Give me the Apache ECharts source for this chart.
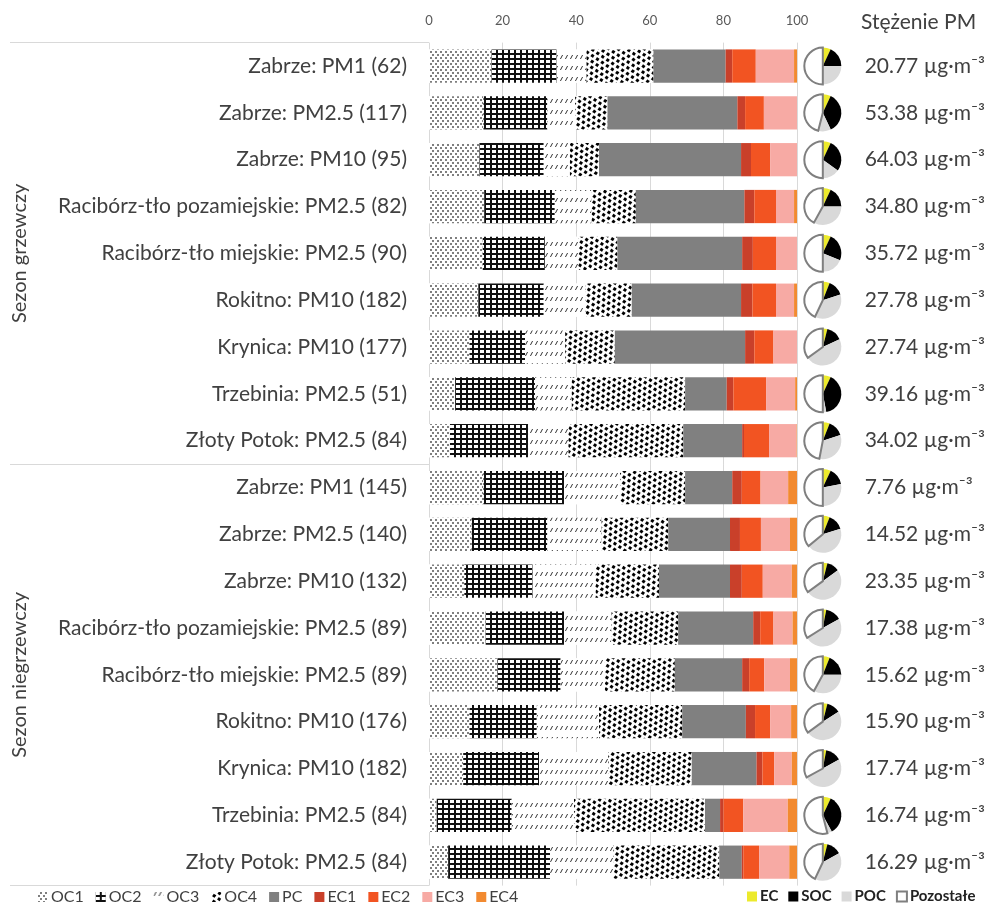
<!DOCTYPE html>
<html>
<head>
<meta charset="utf-8">
<script src="https://cdn.jsdelivr.net/npm/echarts@6/dist/echarts.min.js"></script>
<style>html,body{margin:0;padding:0;background:#fff}#c{width:988px;height:909px}</style>
</head>
<body>
<div id="c"></div>
<script>
const categories = ['Zabrze: PM1 (62)', 'Zabrze: PM2.5 (117)', 'Zabrze: PM10 (95)', 'Racibórz-tło pozamiejskie: PM2.5 (82)', 'Racibórz-tło miejskie: PM2.5 (90)', 'Rokitno: PM10 (182)', 'Krynica: PM10 (177)', 'Trzebinia: PM2.5 (51)', 'Złoty Potok: PM2.5 (84)', 'Zabrze: PM1 (145)', 'Zabrze: PM2.5 (140)', 'Zabrze: PM10 (132)', 'Racibórz-tło pozamiejskie: PM2.5 (89)', 'Racibórz-tło miejskie: PM2.5 (89)', 'Rokitno: PM10 (176)', 'Krynica: PM10 (182)', 'Trzebinia: PM2.5 (84)', 'Złoty Potok: PM2.5 (84)'];
const seasons = ['Sezon grzewczy', 'Sezon niegrzewczy'];
const xTicks = [0, 20, 40, 60, 80, 100];

const OC1 = [17.0,14.8,13.7,15.0,14.6,13.4,11.0,7.1,5.7,14.8,11.6,9.6,15.4,18.6,11.0,9.3,2.1,5.2];
const OC2 = [17.7,17.4,17.5,19.2,16.9,17.8,15.1,21.7,21.3,21.9,20.6,18.6,21.3,17.2,18.3,20.6,20.4,27.7];
const OC3 = [8.1,7.5,7.1,10.0,9.1,11.4,10.9,10.0,10.9,15.2,14.7,17.1,12.9,12.0,16.9,18.8,16.9,17.2];
const OC4 = [18.2,8.8,7.9,12.0,10.6,12.5,13.5,30.8,31.2,17.7,18.1,17.2,18.1,19.0,22.6,22.7,35.6,28.8];
const PC  = [19.6,35.3,38.6,29.5,33.9,29.7,35.4,11.3,16.0,12.8,16.8,19.3,20.4,18.3,17.3,17.6,4.1,6.1];
const EC1 = [1.8,2.1,2.7,2.7,2.9,3.1,2.5,1.8,0.5,2.6,2.7,3.2,1.9,1.9,2.5,1.6,0.9,0.4];
const EC2 = [6.4,5.1,5.2,5.9,6.3,6.4,5.2,8.9,6.8,5.1,5.7,5.7,3.6,4.1,4.1,3.2,5.4,4.3];
const EC3 = [10.4,9.0,7.3,4.9,5.7,4.9,6.4,7.9,7.5,7.5,7.9,7.9,5.2,7.0,5.7,4.8,12.1,8.2];
const EC4 = [0.8,0,0,0.8,0,0.8,0,0.5,0.1,2.4,1.9,1.4,1.2,1.9,1.6,1.4,2.5,2.1];

const pieEC   = [7,7,7,7,7,6,4,7,6,7,6,4,3,6,4,3,7,4];
const pieSOC  = [18,36,28,18,24,14,14,40,14,15,14,11,14,19,12,14,35,13];
const piePOC  = [25,11,15,33,19,37,47,3,33,28,44,50,49,33,49,50,4,40];
const pieRest = [50,46,50,42,50,43,35,50,47,50,36,35,34,42,35,33,54,43];

const concentrations = [20.77,53.38,64.03,34.80,35.72,27.78,27.74,39.16,34.02,7.76,14.52,23.35,17.38,15.62,15.90,17.74,16.74,16.29];

const FONT = 'Lato';
const TXT = '#404040';

const decals = {
  OC1: {symbol:'circle', symbolSize:1, color:'#555', backgroundColor:'#fff', dashArrayX:[[1.4,2.6],[0,2,1.4,0.6]], dashArrayY:[1.4,0.8]},
  OC2: {symbol:'rect', symbolSize:1, color:'#fff', backgroundColor:'#111', dashArrayX:[3.4,1.3], dashArrayY:[2.6,1.3]},
  OC3: {symbol:'path://M0,10 L3,10 L10,0 L7,0 Z', symbolSize:1, symbolKeepAspect:false, color:'#222', backgroundColor:'#fff', dashArrayX:[3,2], dashArrayY:[4,6.5]},
  OC4: {symbol:'rect', symbolSize:1, color:'#000', backgroundColor:'#fff', rotation:0.6, dashArrayX:[[2.6,2.2],[0,2.4,2.6,0]], dashArrayY:[2.2,1.2]}
};

function barSeries(name, data, color, decal) {
  const s = {
    name, type:'bar', stack:'all', xAxisIndex:0, yAxisIndex:0,
    data, barCategoryGap:'29%',
    itemStyle:{color}
  };
  if (decal) s.itemStyle.decal = decal;
  return s;
}

const pieParts = [pieEC, pieSOC, piePOC, pieRest];
function pieSeries(name, k, color) {
  return {
    name, type:'custom', coordinateSystem:'cartesian2d', xAxisIndex:1, yAxisIndex:2,
    itemStyle:{color, borderColor: k === 3 ? '#7f7f7f' : color, borderWidth: k === 3 ? 1 : 0},
    data: categories.map((c, i) => [0.5, i]),
    renderItem(params, api) {
      const i = params.dataIndex;
      const vals = pieParts.map(a => a[i]);
      const total = vals.reduce((a, b) => a + b, 0);
      let before = 0;
      for (let j = 0; j < k; j++) before += vals[j];
      const c = api.coord([0.5, i]);
      const r = api.size([0, 1])[1] * 0.395;
      const s = -Math.PI / 2 + before / total * Math.PI * 2;
      const e = s + vals[k] / total * Math.PI * 2;
      return {
        type:'sector',
        shape:{cx:c[0], cy:c[1], r:r, r0:0, startAngle:s, endAngle:e, clockwise:true},
        style:{fill:color, stroke: k === 3 ? '#7f7f7f' : null, lineWidth: k === 3 ? 2 : 0}
      };
    }
  };
}

const chart = echarts.init(document.getElementById('c'), null, {renderer:'canvas'});
const option = {
  animation:false,
  textStyle:{fontFamily:FONT},
  title:{text:'Stężenie PM', left:856, top:7, textStyle:{fontFamily:FONT, fontSize:21, fontWeight:'normal', color:TXT}},
  grid:[
    {left:429, right:191, top:42.6, height:843},
    {left:803, width:40, top:42.6, height:843}
  ],
  xAxis:[
    {type:'value', gridIndex:0, position:'top', min:xTicks[0], max:xTicks[xTicks.length-1], interval:20,
     axisLine:{show:false}, axisTick:{show:false},
     axisLabel:{color:'#595959', fontSize:13, margin:15, fontFamily:FONT},
     splitLine:{lineStyle:{color:'#d9d9d9', width:1}}},
    {type:'value', gridIndex:1, min:0, max:1, show:false}
  ],
  yAxis:[
    {type:'category', gridIndex:0, data:categories, inverse:true,
     axisLine:{show:false}, axisTick:{show:false},
     axisLabel:{color:TXT, fontSize:21, margin:22, fontFamily:FONT}},
    {type:'category', gridIndex:0, data:seasons, inverse:true, position:'left',
     axisLine:{show:false},
     axisTick:{show:true, length:419, lineStyle:{color:'#d9d9d9', width:1}},
     axisLabel:{color:TXT, fontSize:20, rotate:90, margin:399, fontFamily:FONT}},
    {type:'category', gridIndex:1, data:concentrations.map(v => v.toFixed(2) + ' µg·m⁻³'), inverse:true, position:'right',
     axisLine:{show:false}, axisTick:{show:false},
     axisLabel:{color:TXT, fontSize:21, margin:22, fontFamily:FONT}}
  ],
  legend:[
    {data:['OC1','OC2','OC3','OC4','PC','EC1','EC2','EC3','EC4'], left:38, top:889, padding:0,
     itemWidth:10, itemHeight:10, itemGap:12, icon:'rect',
     textStyle:{color:TXT, fontSize:16, fontFamily:FONT, padding:[0,0,0,-2]}},
    {data:['EC','SOC','POC','Pozostałe'], left:747, top:889, padding:0, width:241,
     itemWidth:10, itemHeight:10, itemGap:10, icon:'rect',
     textStyle:{color:'#222', fontSize:15, fontWeight:'bold', fontFamily:FONT, padding:[0,0,0,-2]}}
  ],
  series:[
    barSeries('OC1', OC1, '#fff', decals.OC1),
    barSeries('OC2', OC2, '#fff', decals.OC2),
    barSeries('OC3', OC3, '#fff', decals.OC3),
    barSeries('OC4', OC4, '#fff', decals.OC4),
    barSeries('PC', PC, '#808080'),
    barSeries('EC1', EC1, '#c9402a'),
    barSeries('EC2', EC2, '#f25422'),
    barSeries('EC3', EC3, '#f7aaa4'),
    barSeries('EC4', EC4, '#f28a30'),
    pieSeries('EC', 0, '#ecea2c'),
    pieSeries('SOC', 1, '#000000'),
    pieSeries('POC', 2, '#d9d9d9'),
    pieSeries('Pozostałe', 3, '#ffffff')
  ]
};
chart.setOption(option);
</script>
</body>
</html>
